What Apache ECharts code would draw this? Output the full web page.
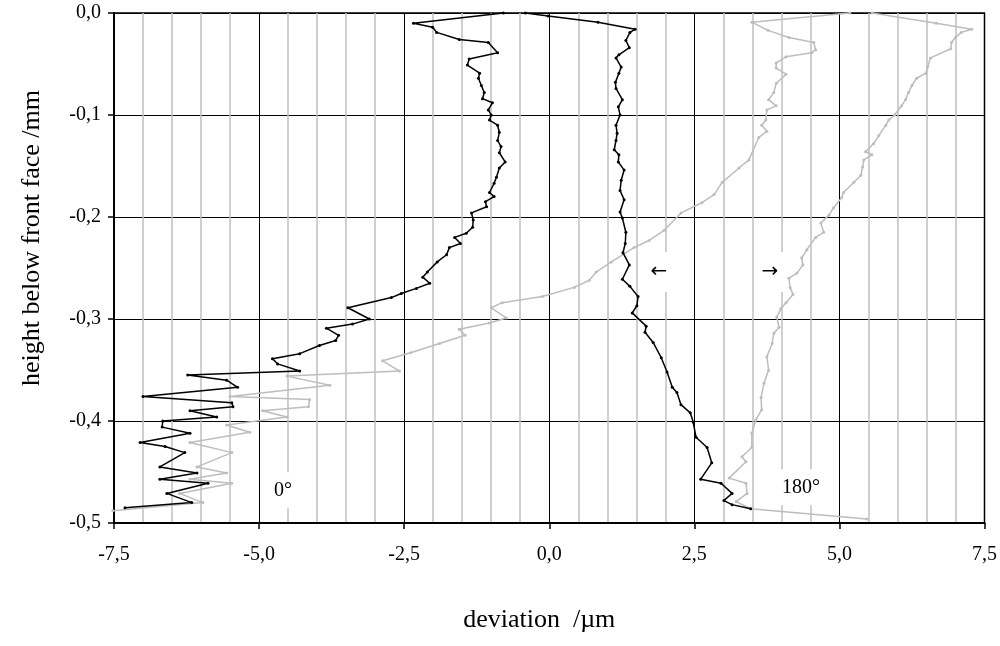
<!DOCTYPE html>
<html>
<head>
<meta charset="utf-8">
<script src="https://cdn.jsdelivr.net/npm/echarts/dist/echarts.min.js"></script>
<style>
  html, body { margin: 0; padding: 0; background: #fff; }
  #chart { width: 1000px; height: 646px; }
</style>
</head>
<body>
<div id="chart"></div>
<script>
// Surface deviation profiles: [deviation µm, height below front face mm]
const blackLeft = [
  [-0.79,0],[-2.34,-0.010],[-2.01,-0.014],[-1.94,-0.019],[-1.55,-0.026],[-1.05,-0.029],[-0.89,-0.039],
  [-1.38,-0.045],[-1.41,-0.051],[-1.20,-0.059],[-1.22,-0.064],[-1.17,-0.071],[-1.12,-0.078],[-1.15,-0.084],
  [-0.98,-0.088],[-1.05,-0.095],[-1.00,-0.100],[-1.03,-0.105],[-0.89,-0.110],[-0.86,-0.117],[-0.89,-0.125],
  [-0.83,-0.131],[-0.86,-0.137],[-0.76,-0.146],[-0.86,-0.152],[-0.91,-0.161],[-0.95,-0.167],[-1.03,-0.176],
  [-0.95,-0.180],[-1.10,-0.185],[-1.08,-0.190],[-1.34,-0.196],[-1.31,-0.203],[-1.32,-0.210],[-1.43,-0.216],
  [-1.63,-0.220],[-1.53,-0.226],[-1.72,-0.230],[-1.77,-0.237],[-1.93,-0.244],[-2.10,-0.254],[-2.18,-0.259],
  [-2.06,-0.265],[-2.29,-0.270],[-2.55,-0.275],[-2.72,-0.279],[-3.47,-0.289],[-3.10,-0.300],[-3.39,-0.305],
  [-3.84,-0.309],[-3.63,-0.316],[-3.68,-0.321],[-3.96,-0.326],[-4.30,-0.334],[-4.77,-0.339],[-4.68,-0.344],
  [-4.30,-0.351],[-6.23,-0.355],[-5.56,-0.360],[-5.37,-0.367],[-7.00,-0.376],[-5.47,-0.382],[-5.45,-0.386],
  [-6.19,-0.390],[-5.73,-0.396],[-6.66,-0.400],[-6.67,-0.406],[-6.19,-0.412],[-7.05,-0.421],[-6.62,-0.425],
  [-6.28,-0.431],[-6.71,-0.445],[-6.07,-0.451],[-6.71,-0.457],[-5.88,-0.461],[-6.59,-0.471],[-6.16,-0.480],
  [-7.31,-0.485]
];

const blackRight = [
  [-0.41,0],[-0.02,-0.003],[0.84,-0.009],[1.48,-0.016],[1.39,-0.019],[1.32,-0.027],[1.38,-0.034],
  [1.20,-0.041],[1.15,-0.044],[1.24,-0.053],[1.20,-0.059],[1.14,-0.068],[1.15,-0.074],[1.26,-0.085],
  [1.19,-0.092],[1.22,-0.100],[1.15,-0.110],[1.17,-0.118],[1.15,-0.125],[1.12,-0.134],[1.20,-0.139],
  [1.19,-0.146],[1.29,-0.154],[1.24,-0.164],[1.22,-0.174],[1.29,-0.183],[1.22,-0.195],[1.26,-0.201],
  [1.32,-0.215],[1.31,-0.226],[1.27,-0.235],[1.38,-0.247],[1.26,-0.261],[1.39,-0.268],[1.53,-0.278],
  [1.51,-0.287],[1.43,-0.294],[1.67,-0.307],[1.65,-0.313],[1.79,-0.323],[1.93,-0.338],[2.03,-0.352],
  [2.12,-0.367],[2.20,-0.372],[2.27,-0.384],[2.43,-0.392],[2.48,-0.401],[2.53,-0.416],[2.72,-0.426],
  [2.80,-0.441],[2.61,-0.457],[2.96,-0.461],[3.15,-0.471],[3.01,-0.478],[3.15,-0.482],[3.47,-0.486]
];

const grayMiddle = [
  [5.18,0],[3.49,-0.009],[3.77,-0.017],[4.13,-0.024],[4.56,-0.029],[4.59,-0.036],[4.52,-0.039],
  [4.08,-0.043],[3.91,-0.049],[3.91,-0.054],[4.08,-0.060],[3.91,-0.069],[3.87,-0.078],[3.78,-0.085],
  [3.91,-0.091],[3.75,-0.095],[3.73,-0.105],[3.66,-0.110],[3.75,-0.116],[3.61,-0.122],[3.44,-0.144],
  [3.27,-0.152],[2.98,-0.166],[2.84,-0.178],[2.63,-0.186],[2.27,-0.196],[1.98,-0.213],[1.72,-0.223],
  [1.46,-0.230],[1.07,-0.244],[0.81,-0.254],[0.69,-0.262],[0.43,-0.269],[-0.12,-0.278],[-0.81,-0.284],
  [-1.00,-0.289],[-0.74,-0.299],[-1.03,-0.304],[-1.55,-0.310],[-1.45,-0.316],[-1.89,-0.324],[-2.39,-0.333],
  [-2.87,-0.341],[-2.58,-0.351],[-4.52,-0.356],[-3.78,-0.365],[-5.50,-0.376],[-4.13,-0.379],[-4.15,-0.386],
  [-4.94,-0.390],[-4.52,-0.396],[-5.56,-0.404],[-5.16,-0.411],[-6.19,-0.421],[-5.47,-0.431],[-6.07,-0.445],
  [-5.56,-0.451],[-6.19,-0.457],[-5.47,-0.461],[-6.37,-0.471],[-5.97,-0.480],[-7.52,-0.488]
];

const grayRight = [
  [5.56,0],[6.67,-0.010],[7.28,-0.016],[7.10,-0.019],[7.00,-0.024],[6.93,-0.029],[6.92,-0.035],
  [6.57,-0.044],[6.52,-0.053],[6.49,-0.059],[6.33,-0.064],[6.25,-0.071],[6.19,-0.078],[6.14,-0.085],
  [6.07,-0.091],[5.95,-0.100],[5.85,-0.105],[5.80,-0.110],[5.68,-0.120],[5.59,-0.128],[5.45,-0.136],
  [5.56,-0.139],[5.42,-0.144],[5.40,-0.151],[5.37,-0.159],[5.25,-0.166],[5.07,-0.176],[5.04,-0.181],
  [4.90,-0.191],[4.82,-0.198],[4.68,-0.206],[4.73,-0.215],[4.59,-0.220],[4.44,-0.232],[4.35,-0.240],
  [4.37,-0.247],[4.27,-0.255],[4.13,-0.260],[4.15,-0.269],[4.20,-0.276],[4.08,-0.284],[3.99,-0.290],
  [3.92,-0.298],[3.96,-0.308],[3.87,-0.314],[3.84,-0.324],[3.75,-0.337],[3.78,-0.350],[3.70,-0.363],
  [3.65,-0.377],[3.66,-0.389],[3.56,-0.399],[3.49,-0.412],[3.49,-0.426],[3.32,-0.435],[3.39,-0.440],
  [3.10,-0.456],[3.39,-0.461],[3.41,-0.471],[3.22,-0.479],[3.47,-0.486],[5.47,-0.496]
];

// Text annotations placed in data coordinates
const angleNotes = [
  [-4.59, -0.468, '0°'],
  [4.34, -0.465, '180°']
];
const arrowNotes = [
  [1.89, -0.254, '←'],
  [3.80, -0.254, '→']
];

const serif = 'Liberation Serif';
const fmt = v => v.toFixed(1).replace('.', ',').replace(/^-0,0$/, '0,0');

function profile(data, color) {
  return {
    type: 'line',
    data: data,
    symbol: 'circle',
    symbolSize: 3,
    showSymbol: true,
    lineStyle: { color: color, width: 1.5 },
    itemStyle: { color: color },
    emphasis: { disabled: true },
    silent: true,
    animation: false,
    clip: false,
    z: 3
  };
}

function notesSeries(data, font, size, pad) {
  return {
    type: 'scatter',
    data: data,
    symbol: 'rect',
    symbolSize: 1,
    itemStyle: { color: 'rgba(255,255,255,0)', opacity: 1 },
    emphasis: { disabled: true },
    silent: true,
    z: 2,
    label: {
      show: true,
      position: 'inside',
      formatter: p => p.value[2],
      fontFamily: font,
      fontSize: size,
      color: '#000',
      opacity: 1,
      backgroundColor: '#fff',
      padding: pad
    },
    labelLayout: { hideOverlap: false }
  };
}

const chart = echarts.init(document.getElementById('chart'), null, { renderer: 'canvas' });
chart.setOption({
  backgroundColor: '#fff',
  animation: false,
  grid: {
    left: 114, right: 14, top: 13, bottom: 123,
    show: true, borderColor: '#000', borderWidth: 1.5, backgroundColor: 'transparent'
  },
  xAxis: {
    type: 'value',
    min: -7.5, max: 7.5, interval: 2.5,
    name: 'deviation  /µm',
    nameLocation: 'middle',
    nameGap: 84,
    nameTextStyle: { fontFamily: serif, fontSize: 26, color: '#000', padding: [0, 20, 0, 0] },
    axisLine: { show: true, onZero: false, lineStyle: { color: '#000', width: 2 } },
    axisTick: { show: true, inside: false, length: 6, lineStyle: { color: '#000', width: 1.5 } },
    axisLabel: { fontFamily: serif, fontSize: 20, color: '#000', margin: 22, formatter: fmt },
    splitLine: { show: true, lineStyle: { color: '#000', width: 1 } },
    minorTick: { show: false, splitNumber: 5 },
    minorSplitLine: { show: true, lineStyle: { color: '#c0c0c0', width: 1.5 } }
  },
  yAxis: {
    type: 'value',
    min: -0.5, max: 0, interval: 0.1,
    name: 'height below front face /mm',
    nameLocation: 'middle',
    nameGap: 69,
    nameRotate: 90,
    nameTextStyle: { fontFamily: serif, fontSize: 26, color: '#000', padding: [0, 0, 0, 60] },
    axisLine: { show: true, onZero: false, lineStyle: { color: '#000', width: 2 } },
    axisTick: { show: true, inside: false, length: 6, lineStyle: { color: '#000', width: 1.5 } },
    axisLabel: { fontFamily: serif, fontSize: 20, color: '#000', margin: 13, formatter: fmt },
    splitLine: { show: true, lineStyle: { color: '#000', width: 1 } }
  },
  series: [
    notesSeries(angleNotes, serif, 20, [8, 6]),
    notesSeries(arrowNotes, 'DejaVu Sans', 20, [10, 6]),
    profile(grayMiddle, '#bdbdbd'),
    profile(grayRight, '#bdbdbd'),
    profile(blackLeft, '#000'),
    profile(blackRight, '#000')
  ]
});
</script>
</body>
</html>
